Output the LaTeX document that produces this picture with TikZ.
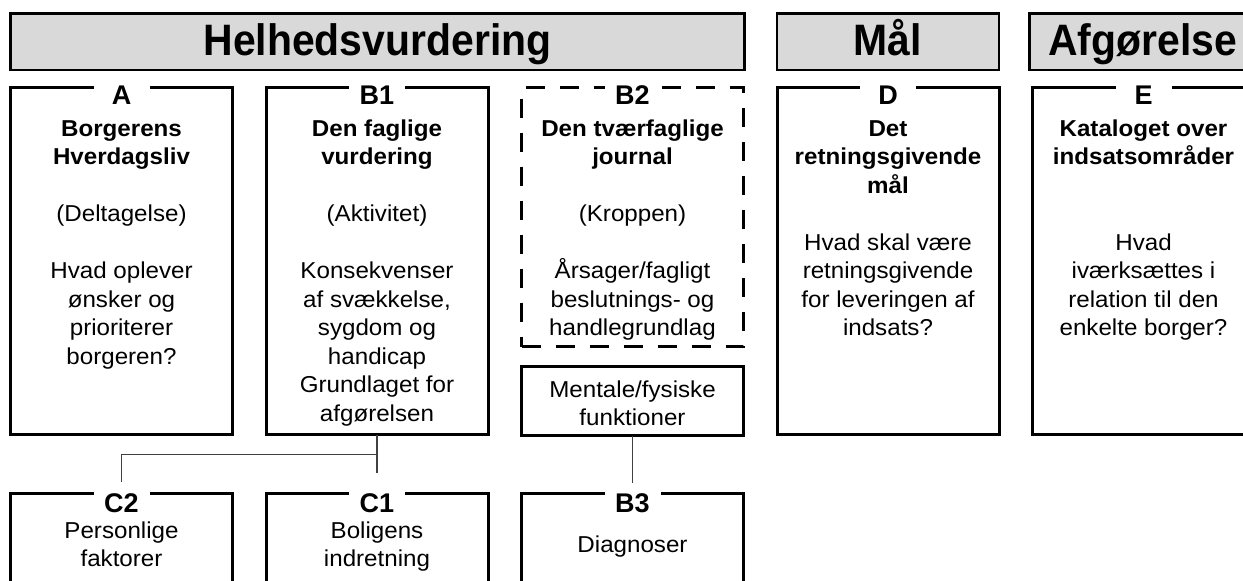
\documentclass[tikz,border=0pt]{standalone}
\usepackage{fontspec}
\setmainfont{Liberation Sans}[FakeStretch=1.05]
\newfontfamily\headfont{Liberation Sans}[FakeStretch=0.93]
\newfontfamily\tagfont{Liberation Sans}
\usetikzlibrary{positioning}
\definecolor{headgray}{RGB}{217,217,217}

\begin{document}
\begin{tikzpicture}[x=1pt, y=-1pt,
    head/.style={draw, line width=2.5pt, fill=headgray, anchor=north west, inner sep=0pt, outer sep=0pt,
      minimum height=56.5pt, text height=34pt, text depth=7pt, font=\headfont\fontsize{44}{50}\selectfont\bfseries},
    box/.style={draw, line width=3pt, anchor=north west, inner sep=0pt, outer sep=0pt, minimum width=222pt},
    tag/.style={fill=white, inner xsep=8pt, inner ysep=3pt, minimum width=56pt, anchor=base,
      font=\tagfont\fontsize{27}{30}\selectfont\bfseries},
    txt/.style={align=center, inner sep=0pt, font=\fontsize{23}{28.5}\selectfont},
    link/.style={draw=black!75, line width=1.2pt}]
    \path[use as bounding box, clip] (0,0) rectangle (1243,581);

    % headers
    \node[head, minimum width=734pt] (hv) at (10.5,13.25) {Helhedsvurdering};
    \node[head, minimum width=222pt] (maal) at (777,13.25) {Mål};
    \node[head, minimum width=226.5pt] (afg) at (1029.5,13.25) {Afgørelse};

    % boxes
    \node[box, minimum height=347pt] (a) at (10.5,87.5) {};
    \node[box, minimum height=347pt] (b1) at (266,87.5) {};
    \node[box, dash pattern=on 19pt off 15pt, minimum height=259pt] (b2) at (521.5,87.5) {};
    \node[box, minimum height=69pt] (mf) at (521.5,366.5) {};
    \node[box, minimum height=347pt] (d) at (777,87.5) {};
    \node[box, minimum height=347pt] (e) at (1032.5,87.5) {};
    \node[box, minimum height=150pt] (c2) at (10.5,493.5) {};
    \node[box, minimum height=150pt] (c1) at (266,493.5) {};
    \node[box, minimum height=150pt] (b3) at (521.5,493.5) {};

    % tags
    \node[below=16.5pt of a.north, tag] (a-tag) {A};
    \node[below=16.5pt of b1.north, tag] (b1-tag) {B1};
    \node[below=16.5pt of b2.north, tag] (b2-tag) {B2};
    \node[below=16.5pt of d.north, tag] (d-tag) {D};
    \node[below=16.5pt of e.north, tag] (e-tag) {E};
    \node[below=18.5pt of c2.north, tag] (c2-tag) {C2};
    \node[below=18.5pt of c1.north, tag] (c1-tag) {C1};
    \node[below=18.5pt of b3.north, tag] (b3-tag) {B3};

    % texts
    \node[txt, below=28.5pt of a.north] (a-txt) {\strut\textbf{Borgerens}\\\textbf{Hverdagsliv}\\[28.5pt]
      (Deltagelse)\\[28.5pt]Hvad oplever\\ønsker og\\prioriterer\\borgeren?};
    \node[txt, below=28.5pt of b1.north] (b1-txt) {\strut\textbf{Den faglige}\\\textbf{vurdering}\\[28.5pt]
      (Aktivitet)\\[28.5pt]Konsekvenser\\af svækkelse,\\sygdom og\\handicap\\Grundlaget for\\afgørelsen};
    \node[txt, below=28.5pt of b2.north] (b2-txt) {\strut\textbf{Den tværfaglige}\\\textbf{journal}\\[28.5pt]
      (Kroppen)\\[28.5pt]Årsager/fagligt\\beslutnings- og\\handlegrundlag};
    \node[txt, below=10.5pt of mf.north] (mf-txt) {\strut Mentale/fysiske\\funktioner};
    \node[txt, below=28.5pt of d.north] (d-txt) {\strut\textbf{Det}\\\textbf{retningsgivende}\\\textbf{mål}\\[28.5pt]
      Hvad skal være\\retningsgivende\\for leveringen af\\indsats?};
    \node[txt, below=28.5pt of e.north] (e-txt) {\strut\textbf{Kataloget over}\\\textbf{indsatsområder}\\[57pt]
      Hvad\\iværksættes i\\relation til den\\enkelte borger?};
    \node[txt, below=24.5pt of c2.north] (c2-txt) {\strut Personlige\\faktorer};
    \node[txt, below=24.5pt of c1.north] (c1-txt) {\strut Boligens\\indretning};
    \node[txt, below=38.5pt of b3.north] (b3-txt) {\strut Diagnoser};

    % links
    \coordinate[below=20pt of b1.south] (split);
    \coordinate[above=11.5pt of c2.north] (c2tip);
    \coordinate[above=20.5pt of c1.north] (c1tip);
    \coordinate[above=10.5pt of b3.north] (b3tip);
    \draw[link] (b1.south) -- (split) -| (c2tip);
    \draw[link] (split) -- (c1tip);
    \draw[link] (mf.south) -- (b3tip);
\end{tikzpicture}
\end{document}
